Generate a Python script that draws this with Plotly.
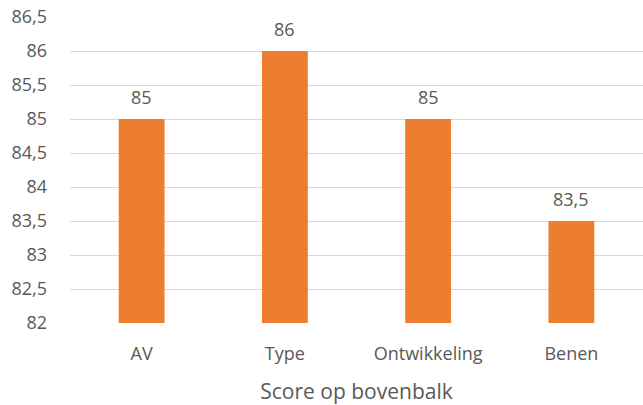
import plotly.graph_objects as go

categories = ["AV", "Type", "Ontwikkeling", "Benen"]
scores = [85, 86, 85, 83.5]
y_range = [82, 86.5]

BAR_COLOR = "#ED7D31"
TEXT_COLOR = "#595959"
GRID_COLOR = "#D9D9D9"
FONT = "Open Sans"

fig = go.Figure()
fig.add_trace(go.Bar(x=categories, y=scores, marker_color=BAR_COLOR,
                     marker_line_width=0, width=0.32))

# value labels above the bars
for cat, val in zip(categories, scores):
    fig.add_annotation(x=cat, y=val, text=f"{val:g}".replace(".", ","),
                       showarrow=False, yanchor="middle", yshift=22,
                       font=dict(family=FONT, size=18, color=TEXT_COLOR))

fig.update_layout(
    width=643, height=405,
    margin=dict(l=70, r=0, t=17, b=82),
    paper_bgcolor="white", plot_bgcolor="white",
    separators=",.",
    showlegend=False,
    font=dict(family=FONT, size=18, color=TEXT_COLOR),
    xaxis=dict(
        title=dict(text="Score op bovenbalk", font=dict(size=21), standoff=22),
        showgrid=False, showline=False, ticks="", automargin=False,
        tickfont=dict(size=18), ticklabelstandoff=18,
    ),
    yaxis=dict(
        range=y_range, dtick=0.5, tick0=82,
        showgrid=True, gridcolor=GRID_COLOR, gridwidth=1,
        zeroline=False, showline=False, ticks="", automargin=False,
        tickfont=dict(size=18), ticklabelstandoff=22,
        ticklabeloverflow="allow",
    ),
)

# drop the default body margin so the figure sits at the window's corner
fig.write_html("out.html", config={"displayModeBar": False},
               post_script="document.body.style.margin='0';")
